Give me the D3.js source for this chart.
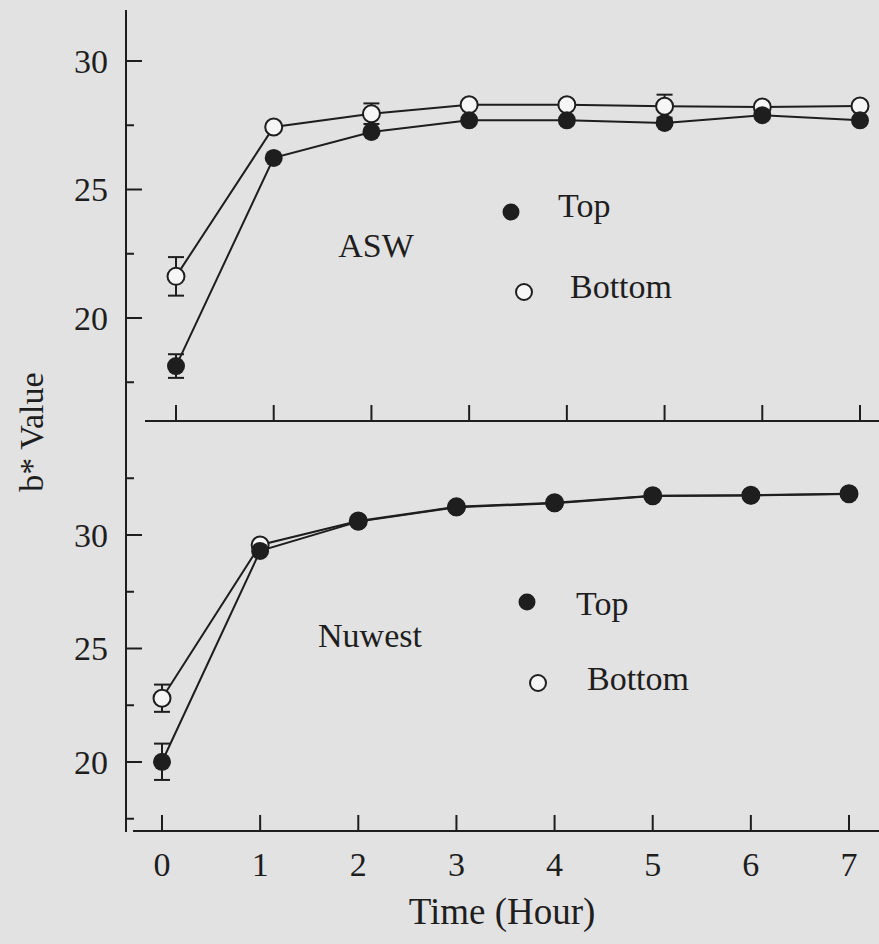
<!DOCTYPE html>
<html>
<head>
<meta charset="utf-8">
<script src="https://cdn.jsdelivr.net/npm/d3@7"></script>
<style>
  html, body { margin: 0; padding: 0; background: #e2e2e2; }
  svg { display: block; }
  text { font-family: "Liberation Serif", "Times New Roman", serif; fill: #1e1e1e; }
</style>
</head>
<body>
<svg id="chart" width="879" height="944"></svg>
<script>
// ---- data ----
const hours = [0, 1, 2, 3, 4, 5, 6, 7];
const xTickLabels = ["0", "1", "2", "3", "4", "5", "6", "7"];
const yTickValues = [17.5, 20, 22.5, 25, 27.5, 30, 32.5];
const yLabelValues = [20, 25, 30];

const aswTop          = [18.13, 26.23, 27.24, 27.69, 27.69, 27.59, 27.89, 27.69];
const aswTopErr       = [0.46, 0, 0, 0, 0, 0, 0, 0];
const aswBottom       = [21.62, 27.43, 27.95, 28.30, 28.30, 28.24, 28.21, 28.25];
const aswBottomErr    = [0.75, 0, 0.40, 0, 0, 0.45, 0, 0];

const nuwestTop       = [20.01, 29.30, 30.59, 31.22, 31.40, 31.72, 31.74, 31.81];
const nuwestTopErr    = [0.80, 0, 0, 0, 0, 0, 0, 0];
const nuwestBottom    = [22.81, 29.56, 30.62, 31.24, 31.42, 31.73, 31.75, 31.82];
const nuwestBottomErr = [0.60, 0, 0, 0, 0, 0, 0, 0];

const panelNames = ["ASW", "Nuwest"];
const legendNames = ["Top", "Bottom"];
const xTitle = "Time (Hour)";
const yTitle = "b* Value";

// ---- drawing ----
const svg = d3.select("#chart");
const ink = "#1e1e1e";
const FS = 34;
const axisX = 126;

const panels = [
  {
    name: panelNames[0], top: aswTop, topErr: aswTopErr, bottom: aswBottom, bottomErr: aswBottomErr,
    x: d3.scaleLinear().domain([0, 7]).range([176, 860]),
    y: d3.scaleLinear().domain([20, 30]).range([318, 61]),
    baseY: 421, lineStart: 145, ticks: yTickValues.filter(v => v <= 30),
    label: [376, 257], leg: {dot: [511, 212], text1: [558, 217], open: [524, 292], text2: [570, 298]}
  },
  {
    name: panelNames[1], top: nuwestTop, topErr: nuwestTopErr, bottom: nuwestBottom, bottomErr: nuwestBottomErr,
    x: d3.scaleLinear().domain([0, 7]).range([162, 849]),
    y: d3.scaleLinear().domain([20, 30]).range([762, 535]),
    baseY: 831, lineStart: 133, ticks: yTickValues,
    label: [370, 647], leg: {dot: [527, 602], text1: [576, 615], open: [538, 683], text2: [587, 690]}
  }
];

// left axis line (continuous)
svg.append("line").attr("x1", axisX).attr("x2", axisX).attr("y1", 10).attr("y2", 832)
  .attr("stroke", ink).attr("stroke-width", 2);

panels.forEach(p => {
  // y ticks
  p.ticks.forEach(v => {
    const major = yLabelValues.includes(v);
    svg.append("line").attr("x1", axisX).attr("x2", axisX + (major ? 16 : 8))
      .attr("y1", p.y(v)).attr("y2", p.y(v)).attr("stroke", ink).attr("stroke-width", 2);
    if (major) {
      svg.append("text").attr("x", 108).attr("y", p.y(v)).attr("dy", "0.35em")
        .attr("text-anchor", "end").attr("font-size", FS).text(d3.format("d")(v));
    }
  });
  // x baseline
  svg.append("line").attr("x1", p.lineStart).attr("x2", 879).attr("y1", p.baseY).attr("y2", p.baseY)
    .attr("stroke", ink).attr("stroke-width", 2);
  hours.forEach(h => {
    svg.append("line").attr("x1", p.x(h)).attr("x2", p.x(h)).attr("y1", p.baseY).attr("y2", p.baseY - 16)
      .attr("stroke", ink).attr("stroke-width", 2);
  });

  const line = d3.line().x((d, i) => p.x(hours[i])).y(d => p.y(d));
  [p.bottom, p.top].forEach(series => {
    svg.append("path").datum(series).attr("d", line).attr("fill", "none")
      .attr("stroke", ink).attr("stroke-width", 2);
  });

  // error bars
  [[p.bottom, p.bottomErr], [p.top, p.topErr]].forEach(([s, e]) => {
    s.forEach((v, i) => {
      if (!e[i]) return;
      const cx = p.x(hours[i]);
      const y1 = p.y(v + e[i]), y2 = p.y(v - e[i]);
      svg.append("line").attr("x1", cx).attr("x2", cx).attr("y1", y1).attr("y2", y2)
        .attr("stroke", ink).attr("stroke-width", 2);
      [y1, y2].forEach(yy => svg.append("line").attr("x1", cx - 8).attr("x2", cx + 8)
        .attr("y1", yy).attr("y2", yy).attr("stroke", ink).attr("stroke-width", 2));
    });
  });

  // open markers (Bottom) then filled (Top)
  svg.append("g").selectAll("circle").data(p.bottom).join("circle")
    .attr("cx", (d, i) => p.x(hours[i])).attr("cy", d => p.y(d)).attr("r", 8.5)
    .attr("fill", "#f6f6f6").attr("stroke", ink).attr("stroke-width", 2);
  svg.append("g").selectAll("circle").data(p.top).join("circle")
    .attr("cx", (d, i) => p.x(hours[i])).attr("cy", d => p.y(d)).attr("r", 9)
    .attr("fill", ink);

  // panel label
  svg.append("text").attr("x", p.label[0]).attr("y", p.label[1]).attr("text-anchor", "middle")
    .attr("font-size", FS).text(p.name);

  // legend
  svg.append("circle").attr("cx", p.leg.dot[0]).attr("cy", p.leg.dot[1]).attr("r", 8.5).attr("fill", ink);
  svg.append("text").attr("x", p.leg.text1[0]).attr("y", p.leg.text1[1]).attr("font-size", FS).text(legendNames[0]);
  svg.append("circle").attr("cx", p.leg.open[0]).attr("cy", p.leg.open[1]).attr("r", 8)
    .attr("fill", "#f6f6f6").attr("stroke", ink).attr("stroke-width", 2);
  svg.append("text").attr("x", p.leg.text2[0]).attr("y", p.leg.text2[1]).attr("font-size", FS).text(legendNames[1]);
});

// x tick labels (bottom panel)
const xb = panels[1].x;
hours.forEach((h, i) => {
  svg.append("text").attr("x", xb(h)).attr("y", 876).attr("text-anchor", "middle")
    .attr("font-size", FS).text(xTickLabels[i]);
});

// axis titles
svg.append("text").attr("x", 502).attr("y", 924).attr("text-anchor", "middle")
  .attr("font-size", 37).text(xTitle);
svg.append("text").attr("transform", "translate(43,432) rotate(-90)").attr("text-anchor", "middle")
  .attr("font-size", FS).text(yTitle);
</script>
</body>
</html>
